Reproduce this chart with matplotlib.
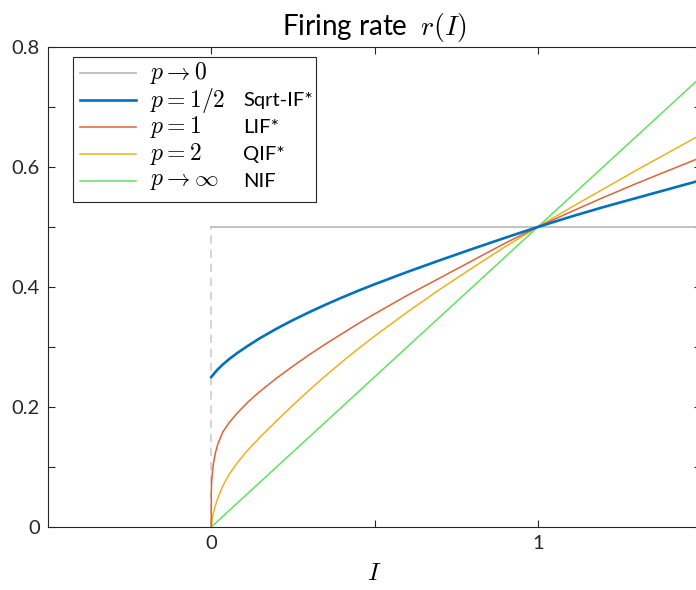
import matplotlib
matplotlib.use("Agg")
import matplotlib.pyplot as plt

# ---- data ----
I_step = [0.0, 1.5]
r_step = [0.5, 0.5]
step_dash_x = [0.0, 0.0]
step_dash_y = [0.0, 0.5]

I_sqrt = [0.0, 0.002, 0.005, 0.01, 0.02, 0.035, 0.055, 0.08, 0.11, 0.15, 0.2, 0.25, 0.3,
          0.35, 0.4, 0.45, 0.5, 0.6, 0.7, 0.8, 0.9, 1.0, 1.1, 1.2, 1.3, 1.4, 1.5]
r_sqrt = [0.250, 0.2515, 0.2530, 0.2566, 0.2628, 0.2707, 0.2799, 0.2901, 0.3012, 0.3150,
          0.3305, 0.3448, 0.3580, 0.3705, 0.3824, 0.3937, 0.4045, 0.4250, 0.4445, 0.4635,
          0.4820, 0.500, 0.517, 0.533, 0.548, 0.563, 0.578]

I_lif = [0.0, 0.0001, 0.0004, 0.001, 0.002, 0.004, 0.007, 0.012, 0.02, 0.035, 0.055, 0.08,
         0.11, 0.147, 0.2, 0.25, 0.3, 0.35, 0.4, 0.45, 0.5, 0.6, 0.7, 0.8, 0.9, 1.0,
         1.1, 1.2, 1.3, 1.4, 1.5]
r_lif = [0.0, 0.050, 0.062, 0.073, 0.082, 0.094, 0.107, 0.122, 0.138, 0.158, 0.174, 0.190,
         0.207, 0.225, 0.248, 0.268, 0.287, 0.305, 0.322, 0.339, 0.355, 0.386, 0.415, 0.444,
         0.473, 0.500, 0.525, 0.549, 0.572, 0.594, 0.616]

I_qif = [0.0, 0.002, 0.005, 0.01, 0.02, 0.035, 0.055, 0.08, 0.11, 0.15, 0.2, 0.25, 0.3,
         0.35, 0.4, 0.45, 0.5, 0.6, 0.7, 0.8, 0.9, 1.0, 1.1, 1.2, 1.3, 1.4, 1.5]
r_qif = [0.0, 0.011, 0.020, 0.031, 0.048, 0.068, 0.088, 0.107, 0.127, 0.150, 0.177, 0.203,
         0.228, 0.252, 0.275, 0.297, 0.318, 0.358, 0.396, 0.432, 0.467, 0.500, 0.532, 0.563,
         0.594, 0.624, 0.654]

I_nif = [0.0, 1.5]
r_nif = [0.0, 0.75]

legend_math = [r"$p \to 0$", r"$p = 1/2$", r"$p = 1$", r"$p = 2$", r"$p \to \infty$"]
legend_names = ["", "Sqrt-IF*", "LIF*", "QIF*", "NIF"]

xticks = [0.0, 0.5, 1.0]
xticklabels = ["0", "", "1"]
yticks = [0.0, 0.1, 0.2, 0.3, 0.4, 0.5, 0.6, 0.7, 0.8]
yticklabels = ["0", "", "0.2", "", "0.4", "", "0.6", "", "0.8"]

# ---- style ----
plt.rcParams["font.family"] = ["Lato", "DejaVu Sans"]
plt.rcParams["mathtext.fontset"] = "cm"

c_gray = "#BDBDBD"
c_dash = "#C9CED6"
c_blue = "#0072BD"
c_lif = "#DE6337"
c_qif = "#EDB120"
c_nif = "#5FE35F"
c_axis = "#262626"

fig = plt.figure(figsize=(6.96, 5.90), dpi=100)
ax = fig.add_axes([48 / 696, 63 / 590, 653 / 696, 480 / 590])

ax.plot(step_dash_x, step_dash_y, color=c_dash, lw=1.2, ls=(0, (5, 3.5)), zorder=1)
h0, = ax.plot(I_step, r_step, color=c_gray, lw=1.3, zorder=2)
h4, = ax.plot(I_nif, r_nif, color=c_nif, lw=1.1, zorder=3)
h3, = ax.plot(I_qif, r_qif, color=c_qif, lw=1.1, zorder=4)
h2, = ax.plot(I_lif, r_lif, color=c_lif, lw=1.1, zorder=5)
h1, = ax.plot(I_sqrt, r_sqrt, color=c_blue, lw=1.9, zorder=6)

ax.set_xlim(-0.5, 1.5)
ax.set_ylim(0, 0.8)
ax.set_xticks(xticks)
ax.set_xticklabels(xticklabels)
ax.set_yticks(yticks)
ax.set_yticklabels(yticklabels)
ax.tick_params(direction="in", length=5, width=0.8, colors=c_axis, labelsize=14.5,
               top=True, right=True, pad=6)
for s in ax.spines.values():
    s.set_color(c_axis)
    s.set_linewidth(0.8)

ax.set_xlabel(r"$I$", fontsize=18, labelpad=6)
ax.set_title(r"Firing rate  $r(I)$", fontsize=20, pad=9)

handles = [h0, h1, h2, h3, h4]
leg = ax.legend(handles, [""] * len(handles), loc="upper left",
                bbox_to_anchor=(25 / 653, 322 / 480, 243 / 653, 148 / 480),
                mode="expand", borderaxespad=0, fontsize=17, handlelength=2.35,
                handleheight=0.95, handletextpad=0.55, labelspacing=0.2,
                frameon=True, fancybox=False, borderpad=0.3)
leg.get_frame().set_edgecolor(c_axis)
leg.get_frame().set_linewidth(0.8)
leg.get_frame().set_alpha(1)

# place legend texts next to the drawn legend handles
fig.canvas.draw()
renderer = fig.canvas.get_renderer()
inv = ax.transAxes.inverted()
x_math = (150 - 48) / 653
x_name = (243 - 48) / 653
for hl, mtxt, name in zip(leg.legend_handles, legend_math, legend_names):
    bb = hl.get_window_extent(renderer)
    yc = 0.5 * (bb.y0 + bb.y1)
    ya = inv.transform((0, yc))[1]
    ax.text(x_math, ya, mtxt, transform=ax.transAxes, fontsize=17,
            va="center", ha="left", color="black", zorder=10)
    if name:
        ax.text(x_name, ya, name, transform=ax.transAxes, fontsize=14.5,
                va="center", ha="left", color="black", zorder=10)

fig.savefig("out.png", dpi=100)
